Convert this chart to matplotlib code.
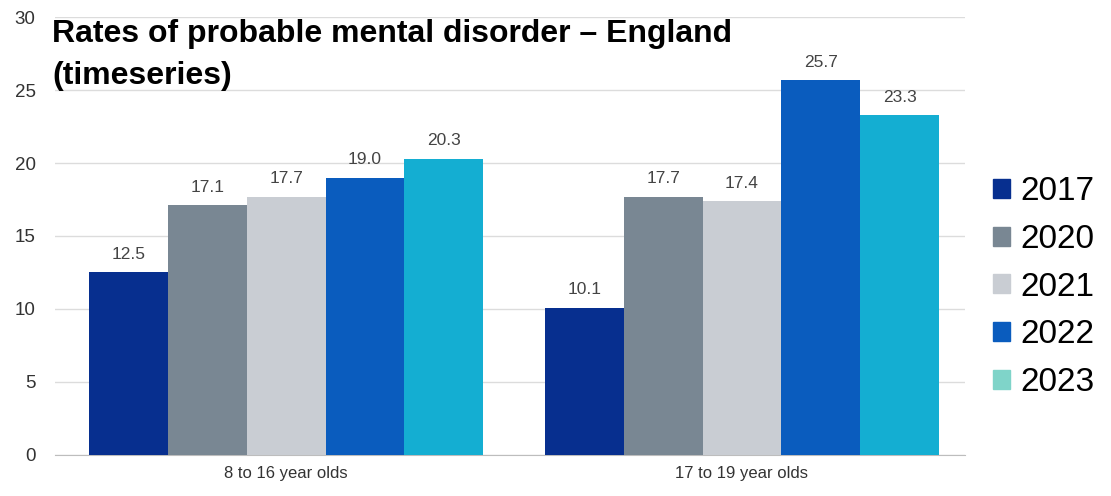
import numpy as np
import matplotlib.pyplot as plt
from matplotlib.patches import Patch

plt.rcParams['font.family'] = ['Liberation Sans', 'DejaVu Sans']

groups = ['8 to 16 year olds', '17 to 19 year olds']
years = ['2017', '2020', '2021', '2022', '2023']
values = {
    '2017': [12.5, 10.1],
    '2020': [17.1, 17.7],
    '2021': [17.7, 17.4],
    '2022': [19.0, 25.7],
    '2023': [20.3, 23.3],
}
bar_colors = ['#072f8f', '#798793', '#c9cdd3', '#0a5cbe', '#14aed2']
legend_colors = ['#072f8f', '#798793', '#c9cdd3', '#0a5cbe', '#7fd4c9']

fig = plt.figure(figsize=(11.11, 4.96), dpi=100)
ax = fig.add_axes([0.0495, 0.0827, 0.819, 0.883])

x = np.arange(len(groups))
w = 0.173
for i, yr in enumerate(years):
    pos = x + (i - 2) * w
    bars = ax.bar(pos, values[yr], width=w, color=bar_colors[i], zorder=3)
    for b, v in zip(bars, values[yr]):
        ax.text(b.get_x() + b.get_width() / 2, v + 0.7, f'{v:.1f}',
                ha='center', va='bottom', fontsize=12.5, color='#444444')

ax.set_xlim(-0.507, 1.489)
ax.set_ylim(0, 30)
ax.set_yticks(range(0, 31, 5))
ax.set_xticks(x)
ax.set_xticklabels(groups, fontsize=12, color='#333333')
ax.tick_params(axis='y', labelsize=13.5, colors='#333333', length=0, pad=14)
ax.tick_params(axis='x', length=0, pad=8)
ax.grid(axis='y', color='#dcdcdc', linewidth=1, zorder=0)
for s in ['top', 'right', 'left']:
    ax.spines[s].set_visible(False)
ax.spines['bottom'].set_color('#bdbdbd')

fig.text(0.047, 0.962, 'Rates of probable mental disorder \u2013 England\n(timeseries)',
         fontsize=23, fontweight='bold', color='black', va='top', ha='left',
         linespacing=1.55)

handles = [Patch(color=c) for c in legend_colors]
fig.legend(handles, years, loc='center left', bbox_to_anchor=(0.894, 0.421),
           frameon=False, fontsize=24, handlelength=0.5, handleheight=0.5,
           handletextpad=0.3, labelspacing=0.5, borderpad=0, borderaxespad=0)

fig.savefig('out.png', dpi=100)
